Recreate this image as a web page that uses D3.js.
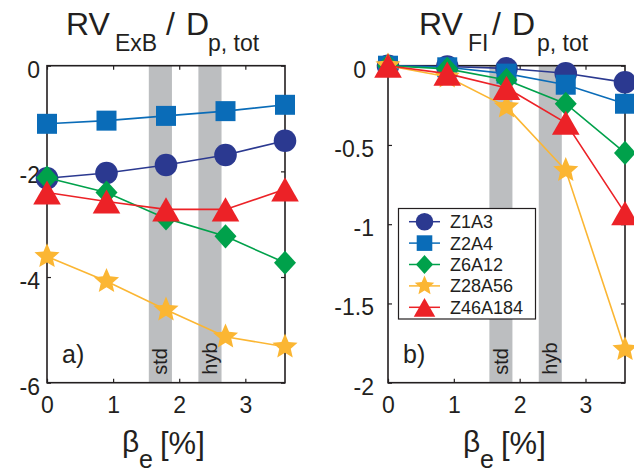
<!DOCTYPE html>
<html lang="en">
<head>
<meta charset="UTF-8">
<title>RV / Dp,tot vs beta_e</title>
<script src="https://cdnjs.cloudflare.com/ajax/libs/d3/7.8.5/d3.min.js"></script>
<style>
  body { margin: 0; background: #fff; }
  svg { display: block; font-family: "Liberation Sans", Arial, Helvetica, sans-serif; }
  text { fill: #231f20; }
</style>
</head>
<body>
<svg id="viz" width="634" height="472"></svg>
<script>
// ---- data ----
const betaE = [0, 0.9, 1.8, 2.7, 3.6];
const species = ['Z1A3', 'Z2A4', 'Z6A12', 'Z28A56', 'Z46A184'];

// panel a) RV_ExB / D_p,tot
const exbZ1A3    = [-2.13, -2.03, -1.88, -1.69, -1.42];
const exbZ2A4    = [-1.10, -1.04, -0.95, -0.86, -0.74];
const exbZ6A12   = [-2.12, -2.40, -2.89, -3.23, -3.73];
const exbZ28A56  = [-3.61, -4.08, -4.62, -5.13, -5.32];
const exbZ46A184 = [-2.40, -2.57, -2.72, -2.72, -2.34];

// panel b) RV_FI / D_p,tot
const fiZ1A3    = [0, -0.005, -0.017, -0.048, -0.105];
const fiZ2A4    = [0, -0.01, -0.05, -0.12, -0.24];
const fiZ6A12   = [0, -0.02, -0.09, -0.24, -0.55];
const fiZ28A56  = [0, -0.07, -0.26, -0.66, -1.79];
const fiZ46A184 = [0, -0.05, -0.14, -0.36, -0.93];

const bands = [{label: 'std', from: 1.54, to: 1.89}, {label: 'hyb', from: 2.29, to: 2.64}];
const xTicks = [0, 1, 2, 3];
const exbTicks = [0, -2, -4, -6];
const fiTicks = [0, -0.5, -1, -1.5, -2];

const colors = ['#2b3990', '#0a6cb8', '#00a14b', '#fbb633', '#ec2227'];
const shapes = ['circle', 'square', 'diamond', 'star', 'triangle'];

// ---- marker paths ----
function marker(shape, s) {
  if (shape === 'circle') return d3.symbol(d3.symbolCircle, Math.PI * s * s)();
  if (shape === 'square') return `M${-s},${-s}H${s}V${s}H${-s}Z`;
  if (shape === 'diamond') return `M0,${-s * 1.1}L${s},0L0,${s * 1.1}L${-s},0Z`;
  if (shape === 'triangle') return `M0,${-s * 1.05}L${s * 1.2},${s * 1.05}L${-s * 1.2},${s * 1.05}Z`;
  if (shape === 'star') {
    const pts = [];
    for (let i = 0; i < 10; i++) {
      const r = i % 2 === 0 ? s * 1.2 : s * 0.55;
      const a = -Math.PI / 2 + i * Math.PI / 5;
      pts.push([r * Math.cos(a), r * Math.sin(a)]);
    }
    return 'M' + pts.map(p => p.join(',')).join('L') + 'Z';
  }
}
const markerSize = [11.3, 10, 11, 11, 11.5];

const svg = d3.select('#viz');
const plotTop = 65.7, plotBottom = 382.7;

function panel(opts) {
  const x = d3.scaleLinear().domain([0, 3.6]).range([opts.x0, opts.x1]);
  const y = d3.scaleLinear().domain(opts.yDomain).range([plotBottom, plotTop]);
  const g = svg.append('g');

  // shaded beta ranges
  bands.forEach(b => {
    g.append('rect')
      .attr('x', x(b.from)).attr('width', x(b.to) - x(b.from))
      .attr('y', plotTop).attr('height', plotBottom - plotTop)
      .attr('fill', '#bcbec0');
    g.append('text')
      .attr('transform', `translate(${(x(b.from) + x(b.to)) / 2},${plotBottom - 8}) rotate(-90)`)
      .attr('dominant-baseline', 'central')
      .attr('font-size', 20)
      .text(b.label);
  });

  // axes, ticks pointing inward
  const fmt = d => d === 0 ? '0' : String(d);
  g.append('g').attr('transform', `translate(0,${plotBottom})`)
    .call(d3.axisBottom(x).tickValues(xTicks).tickSizeInner(-4).tickSizeOuter(0).tickPadding(14).tickFormat(d3.format('d')))
    .call(a => a.select('.domain').remove())
    .call(a => a.selectAll('text').attr('font-size', 23).attr('font-family', null));
  g.append('g').attr('transform', `translate(0,${plotTop})`)
    .call(d3.axisTop(x).tickValues(xTicks).tickSizeInner(-4).tickSizeOuter(0).tickFormat(''))
    .call(a => a.select('.domain').remove());
  g.append('g').attr('transform', `translate(${opts.x0},0)`)
    .call(d3.axisLeft(y).tickValues(opts.ticks).tickSizeInner(-4).tickSizeOuter(0).tickPadding(opts.pad).tickFormat(fmt))
    .call(a => a.select('.domain').remove())
    .call(a => a.selectAll('text').attr('font-size', 23).attr('font-family', null).attr('dy', '0.5em')
      .filter(d => d === 0).attr('dx', opts.zeroShift));
  g.append('g').attr('transform', `translate(${opts.x1},0)`)
    .call(d3.axisRight(y).tickValues(opts.ticks).tickSizeInner(-4).tickSizeOuter(0).tickFormat(''))
    .call(a => a.select('.domain').remove());
  g.selectAll('.tick line').attr('stroke', '#231f20').attr('stroke-width', 1.2);
  g.append('rect')
    .attr('x', opts.x0).attr('y', plotTop)
    .attr('width', opts.x1 - opts.x0).attr('height', plotBottom - plotTop)
    .attr('fill', 'none').attr('stroke', '#231f20').attr('stroke-width', 1.6);

  // series
  const line = d3.line().x((d, i) => x(betaE[i])).y(d => y(d));
  opts.data.forEach((vals, k) => {
    const s = g.append('g');
    s.append('path').attr('d', line(vals))
      .attr('fill', 'none').attr('stroke', colors[k]).attr('stroke-width', 1.6);
    s.selectAll('path.m').data(vals).join('path').attr('class', 'm')
      .attr('transform', (d, i) => `translate(${x(betaE[i])},${y(d)})`)
      .attr('d', marker(shapes[k], markerSize[k]))
      .attr('fill', colors[k]);
  });

  // title
  opts.title.forEach(p => {
    g.append('text').attr('x', p.x).attr('y', p.y).attr('font-size', p.size).text(p.text);
  });

  // x label
  const bx = opts.x0 + 75;
  g.append('text').attr('x', bx).attr('y', 452).attr('font-size', 30).text('β');
  g.append('text').attr('x', bx + 17).attr('y', 468).attr('font-size', 25).text('e');
  g.append('text').attr('x', bx + 38).attr('y', 454).attr('font-size', 31).text('[%]');

  // panel label
  g.append('text').attr('x', opts.x0 + 15).attr('y', 363).attr('font-size', 25).text(opts.tag);
  return {x, y, g};
}

panel({
  x0: 47, x1: 285, yDomain: [-6, 0], ticks: exbTicks, pad: 7, zeroShift: 0, tag: 'a)',
  data: [exbZ1A3, exbZ2A4, exbZ6A12, exbZ28A56, exbZ46A184],
  title: [
    {text: 'RV', x: 66, y: 35, size: 32},
    {text: 'ExB', x: 115, y: 51, size: 23},
    {text: '/', x: 166, y: 35, size: 32},
    {text: 'D', x: 186, y: 35, size: 32},
    {text: 'p, tot', x: 208, y: 51, size: 23}
  ]
});

panel({
  x0: 388, x1: 625, yDomain: [-2, 0], ticks: fiTicks, pad: 14, zeroShift: -8, tag: 'b)',
  data: [fiZ1A3, fiZ2A4, fiZ6A12, fiZ28A56, fiZ46A184],
  title: [
    {text: 'RV', x: 419, y: 35, size: 32},
    {text: 'FI', x: 468, y: 51, size: 23},
    {text: '/', x: 492, y: 35, size: 32},
    {text: 'D', x: 512, y: 35, size: 32},
    {text: 'p, tot', x: 537, y: 51, size: 23}
  ]
});

// legend
const lg = svg.append('g');
lg.append('rect').attr('x', 398.5).attr('y', 208.5).attr('width', 137).attr('height', 110.5)
  .attr('fill', '#fff').attr('stroke', '#231f20').attr('stroke-width', 1.2);
species.forEach((name, k) => {
  const yy = 221.7 + k * 21.4;
  lg.append('line').attr('x1', 409).attr('x2', 440).attr('y1', yy).attr('y2', yy)
    .attr('stroke', colors[k]).attr('stroke-width', 1.5);
  lg.append('path').attr('transform', `translate(424.5,${yy})`)
    .attr('d', marker(shapes[k], markerSize[k] * 0.78)).attr('fill', colors[k]);
  lg.append('text').attr('x', 450).attr('y', yy).attr('dy', '0.36em')
    .attr('font-size', 18).text(name);
});
</script>
</body>
</html>
